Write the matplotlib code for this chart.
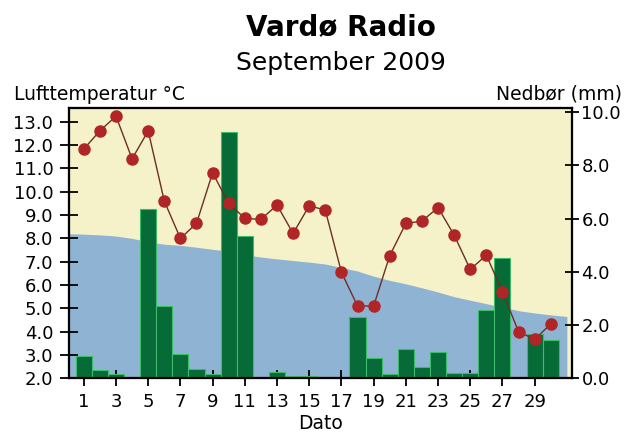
import numpy as np
import matplotlib
matplotlib.use("Agg")
from matplotlib import pyplot as plt
from matplotlib.ticker import FormatStrFormatter

# Daily values, September 2009
days = list(range(1, 31))
temperature = [11.83, 12.61, 13.24, 11.41, 12.61, 9.60, 8.00, 8.64, 10.81, 9.50,
               8.86, 8.81, 9.43, 8.21, 9.40, 9.21, 6.55, 5.10, 5.10, 7.26,
               8.64, 8.74, 9.32, 8.14, 6.67, 7.28, 5.71, 4.00, 3.67, 4.33]
precip = [0.83, 0.33, 0.15, 0.0, 6.35, 2.70, 0.93, 0.34, 0.15, 9.26,
          5.35, 0.0, 0.24, 0.10, 0.10, 0.05, 0.0, 2.30, 0.76, 0.15,
          1.10, 0.42, 1.00, 0.20, 0.20, 2.55, 4.50, 0.0, 1.68, 1.43]

# normal temperature (blue area), read along the whole plot width
normal_days = list(range(0, 32))
normal_temp = [8.20, 8.18, 8.15, 8.10, 8.00, 7.85, 7.75, 7.70, 7.62, 7.53,
               7.45, 7.30, 7.20, 7.12, 7.05, 6.98, 6.90, 6.75, 6.60, 6.38,
               6.20, 6.05, 5.88, 5.70, 5.50, 5.35, 5.20, 5.05, 4.90, 4.80,
               4.72, 4.65]

temp_ticks = np.arange(2.0, 13.5, 1.0)
rain_ticks = np.arange(0.0, 10.5, 2.0)
day_ticks = list(range(1, 30, 2))

fig = plt.figure(figsize=(6.31, 4.33), dpi=100)
ax = fig.add_axes([0.1098, 0.1263, 0.7962, 0.6243])
ax.set_facecolor("#F5F1C8")

# blue area for normal temperature
ax.fill_between(normal_days, 2.0, normal_temp, color="#8FB3D2", lw=0)
ax.set_xlim(0.1, 31.3)
ax.set_ylim(2.0, 13.59)
ax.set_yticks(temp_ticks)
ax.yaxis.set_major_formatter(FormatStrFormatter("%.1f"))
ax.set_xticks(day_ticks)
ax.tick_params(axis="y", direction="inout", length=13, width=1.3, pad=5, labelsize=13)
ax.tick_params(axis="x", direction="inout", length=11, width=1.3, pad=5, labelsize=13)
ax.set_xlabel("Dato", fontsize=13.5, labelpad=2)

# precipitation bars on the right axis
ax2 = ax.twinx()
ax2.bar(days, precip, width=1.0, color="#066B36", edgecolor="#3DBB6A", linewidth=0.8)
ax2.set_ylim(0, 10.15)
ax2.set_yticks(rain_ticks)
ax2.yaxis.set_major_formatter(FormatStrFormatter("%.1f"))
ax2.tick_params(axis="y", direction="inout", length=10, width=1.3, pad=2, labelsize=13)

# temperature line on top
ax3 = ax.twinx()
ax3.set_ylim(ax.get_ylim())
ax3.plot(days, temperature, color="#6A3028", lw=1.0, marker="o", markersize=8,
         markerfacecolor="#B02626", markeredgecolor="#B02626", zorder=5)
ax3.set_yticks([])

for a in (ax, ax2, ax3):
    for s in a.spines.values():
        s.set_linewidth(1.5)
        s.set_color("black")

fig.text(0.54, 0.938, "Vardø Radio", ha="center", va="center", fontsize=20, fontweight="bold")
fig.text(0.54, 0.855, "September 2009", ha="center", va="center", fontsize=18)
fig.text(0.022, 0.782, "Lufttemperatur °C", ha="left", va="center", fontsize=13.5)
fig.text(0.985, 0.782, "Nedbør (mm)", ha="right", va="center", fontsize=13.5)

fig.savefig("out.png", dpi=100, facecolor="white")
